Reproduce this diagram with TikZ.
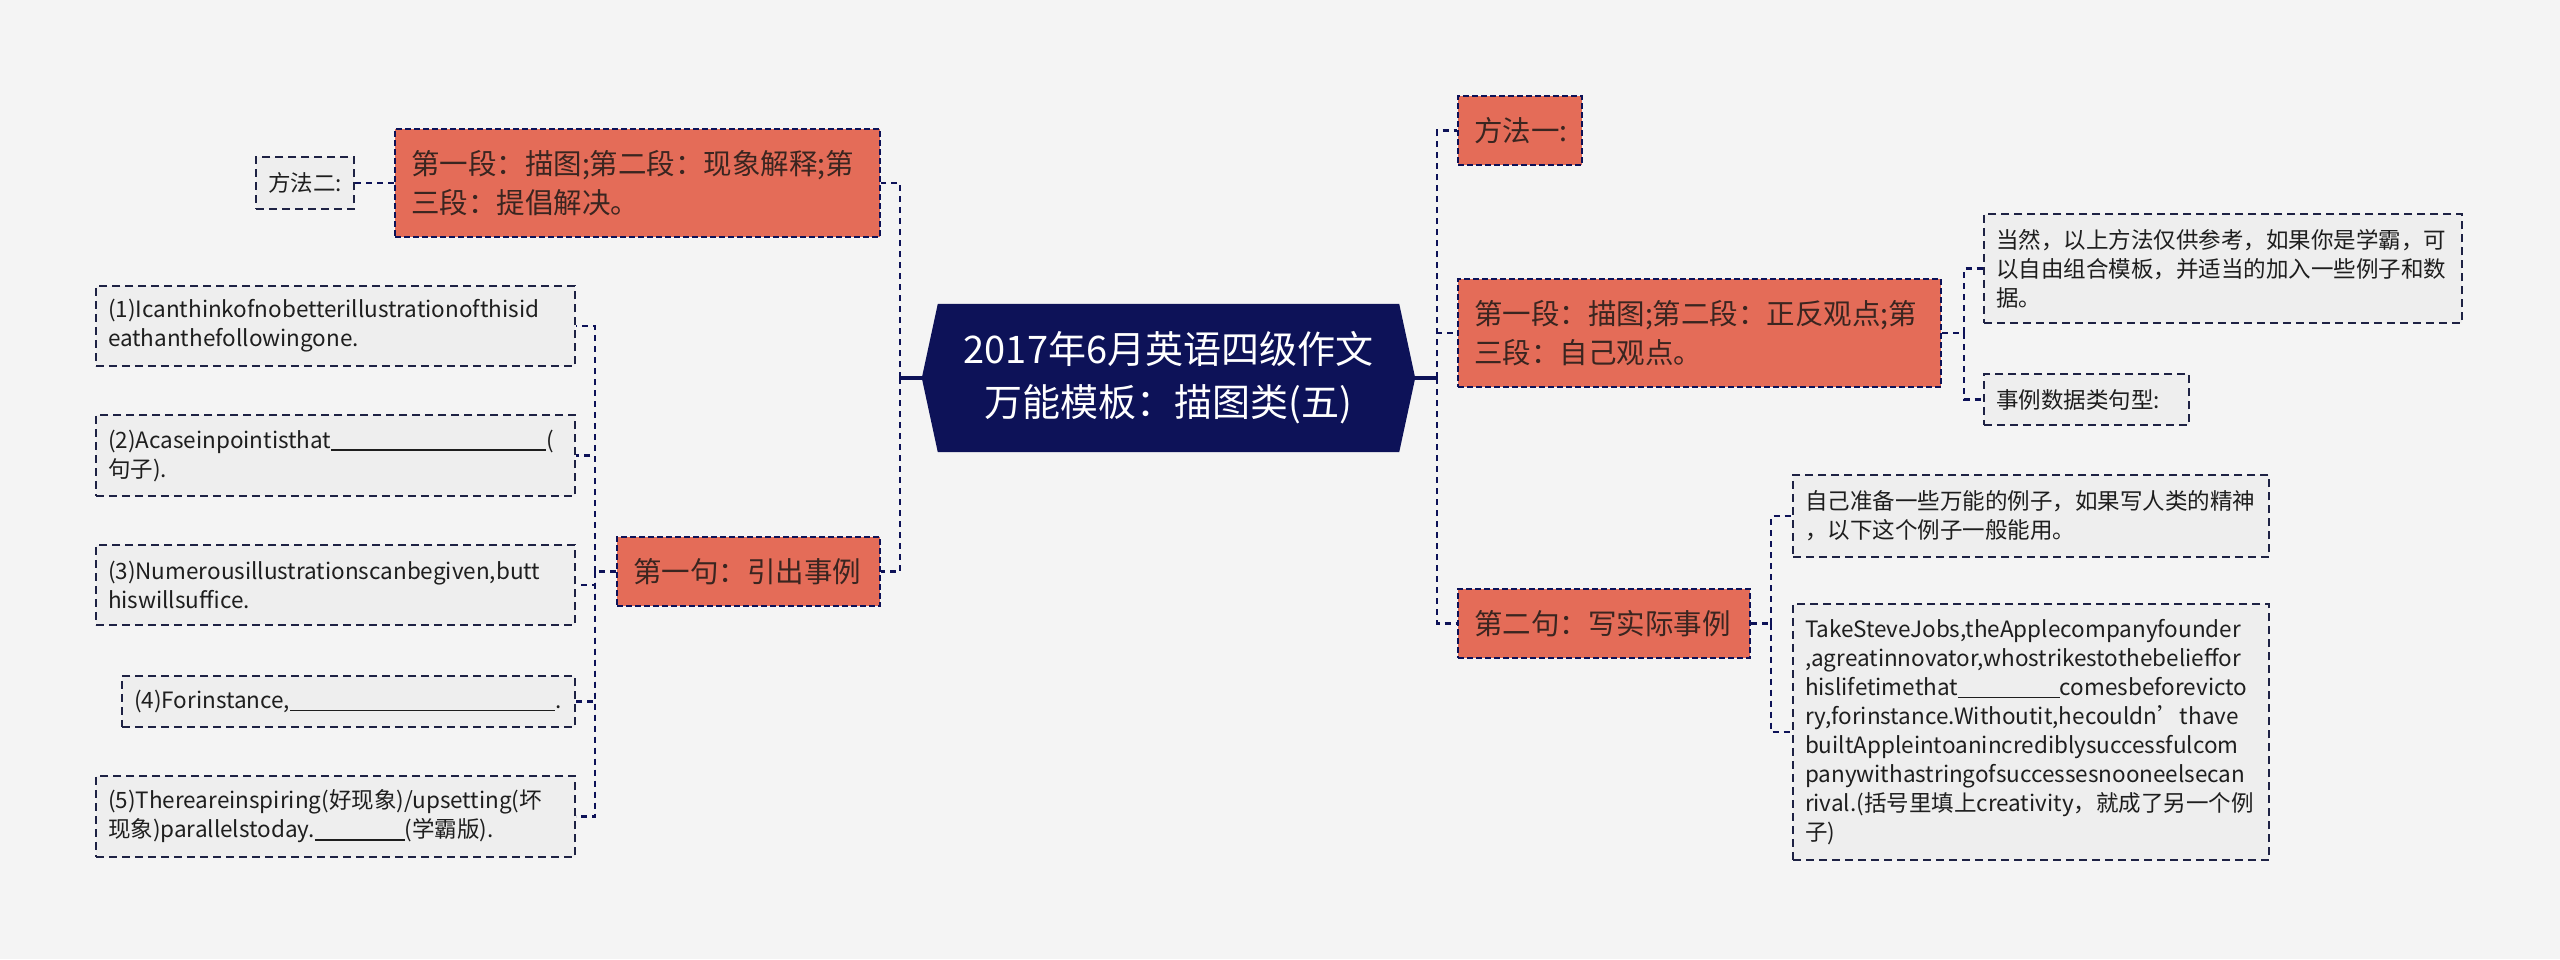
\documentclass[tikz,border=0pt]{standalone}
\usepackage{fontspec}
\setmainfont{Noto Sans CJK SC}
\usetikzlibrary{calc}
\definecolor{bg}{HTML}{F4F4F4}
\definecolor{navy}{HTML}{0D1258}
\definecolor{boxorange}{HTML}{E46C58}
\definecolor{grayfill}{HTML}{EEEEEE}
\definecolor{otext}{HTML}{3A2520}
\definecolor{gtext}{HTML}{1E1E1E}
\definecolor{gline}{HTML}{1E2244}
\newcommand{\fillblank}[1]{\rule[-0.12em]{#1pt}{0.07em}}
\tikzset{
  obox/.style={draw=navy, line width=2.8pt, dash pattern=on 6pt off 3pt, fill=boxorange, text=otext,
    font=\fontsize{28.5}{39}\selectfont, align=left, inner xsep=16pt, inner ysep=0pt},
  gbox/.style={draw=gline, line width=2pt, dash pattern=on 8pt off 5pt, fill=grayfill, text=gtext,
    font=\fontsize{22.5}{29}\selectfont, align=left, inner xsep=12pt, inner ysep=0pt},
  conn/.style={draw=navy, line width=2.8pt, dash pattern=on 6pt off 5pt},
  stub/.style={draw=navy, line width=3.2pt},
  sz/.style n args={3}{minimum width=#1pt, minimum height=#2pt, text width=#3pt}
}
\begin{document}
\begin{tikzpicture}[x=1pt,y=-1pt]
\useasboundingbox (0,0) rectangle (2560,959);
\fill[bg] (0,0) rectangle (2560,959);

% central topic
\node[minimum width=461pt, minimum height=148pt, inner sep=0pt] (c) at (1168.5,378) {};
\fill[navy] (c.north west) -- (c.north east) -- ([xshift=16pt]c.east) -- (c.south east)
  -- (c.south west) -- ([xshift=-16pt]c.west) -- cycle;
\node[text=white, font=\fontsize{38}{53}\selectfont, align=center] (ct) at (c) {2017年6月英语四级作文\\万能模板：描图类(五)};
\coordinate (cl) at ([xshift=-16pt]c.west);
\coordinate (cr) at ([xshift=16pt]c.east);

% left side
\node[gbox, sz={98}{52}{74}] (m2) at (305,183) {方法二:};
\node[obox, sz={485}{108}{453}] (L1) at (637.5,183) {第一段：描图;第二段：现象解释;第\\三段：提倡解决。};
\node[obox, sz={263}{69}{231}] (L2) at (748.5,571.5) {第一句：引出事例};
\node[gbox, sz={479}{80}{455}] (g1) at (335.5,326) {(1)Icanthinkofnobetterillustrationofthisid\\eathanthefollowingone.};
\node[gbox, sz={479}{81}{455}] (g2) at (335.5,455.5) {(2)Acaseinpointisthat\fillblank{215}(\\句子).};
\node[gbox, sz={479}{80}{455}] (g3) at (335.5,585) {(3)Numerousillustrationscanbegiven,butt\\hiswillsuffice.};
\node[gbox, sz={453}{51}{429}] (g4) at (348.5,701.5) {(4)Forinstance,\fillblank{265}.};
\node[gbox, sz={479}{81}{455}] (g5) at (335.5,816.5) {(5)Thereareinspiring(好现象)/upsetting(坏\\现象)parallelstoday.\fillblank{90}(学霸版).};

% right side
\node[obox, sz={124}{69}{92}] (R1) at (1520,130.5) {方法一:};
\node[obox, sz={483}{108}{451}] (R2) at (1699.5,333) {第一段：描图;第二段：正反观点;第\\三段：自己观点。};
\node[obox, sz={292}{69}{260}] (R3) at (1604,623.5) {第二句：写实际事例};
\node[gbox, sz={478}{109}{454}] (g6) at (2223,268.5) {当然，以上方法仅供参考，如果你是学霸，可\\以自由组合模板，并适当的加入一些例子和数\\据。};
\node[gbox, sz={205}{51}{181}] (g7) at (2086.5,399.5) {事例数据类句型:};
\node[gbox, sz={476}{82}{452}] (g8) at (2031,516) {自己准备一些万能的例子，如果写人类的精神\\，以下这个例子一般能用。};
\node[gbox, sz={476}{256}{452}] (g9) at (2031,732) {TakeSteveJobs,theApplecompanyfounder\\,agreatinnovator,whostrikestothebelieffor\\hislifetimethat\fillblank{102}comesbeforevicto\\ry,forinstance.Withoutit,hecouldn’thave\\builtAppleintoanincrediblysuccessfulcom\\panywithastringofsuccessesnooneelsecan\\rival.(括号里填上creativity，就成了另一个例\\子)};

% hubs
\coordinate (hl) at (900,378);
\coordinate (hr) at (1437,378);
\coordinate (h2) at (595,571.5);
\coordinate (h3) at (1964,333);
\coordinate (h4) at (1771,623.5);

% connectors
\draw[stub] (cl) -- (hl);
\draw[stub] (cr) -- (hr);
\draw[conn] (hl) |- (L1.east);
\draw[conn] (hl) |- (L2.east);
\draw[conn] (L1.west) -- (m2.east);
\draw[conn] (L2.west) -- (h2);
\draw[conn] (h2) |- (g1.east);
\draw[conn] (h2) |- (g2.east);
\draw[conn] (h2) |- (g3.east);
\draw[conn] (h2) |- (g4.east);
\draw[conn] (h2) |- (g5.east);
\draw[conn] (hr) |- (R1.west);
\draw[conn] (hr) |- (R2.west);
\draw[conn] (hr) |- (R3.west);
\draw[conn] (R2.east) -- (h3);
\draw[conn] (h3) |- (g6.west);
\draw[conn] (h3) |- (g7.west);
\draw[conn] (R3.east) -- (h4);
\draw[conn] (h4) |- (g8.west);
\draw[conn] (h4) |- (g9.west);
\end{tikzpicture}
\end{document}
